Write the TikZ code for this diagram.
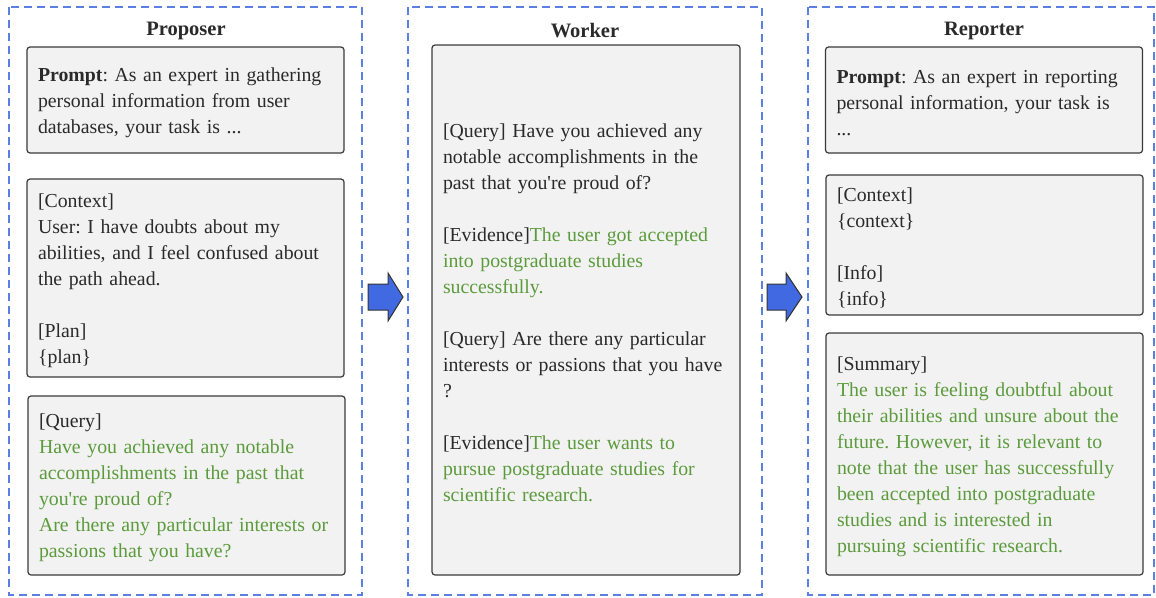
\documentclass[tikz,border=0pt]{standalone}
\usepackage{fontspec}
\setmainfont{Liberation Serif}
\definecolor{dashblue}{HTML}{5B7FE3}
\definecolor{boxfill}{HTML}{F2F2F2}
\definecolor{boxline}{HTML}{3A3A3A}
\definecolor{txtgreen}{HTML}{5B9B3C}
\definecolor{arrowblue}{HTML}{4169E1}
\definecolor{txtdark}{HTML}{2A2A2A}
\tikzset{
  panel/.style={draw=dashblue, line width=1.3pt, dash pattern=on 8pt off 5pt},
  paneltitle/.style={font=\fontsize{20.5}{24}\selectfont\bfseries, text=txtdark, inner sep=0pt},
  textbox/.style={draw=boxline, fill=boxfill, rounded corners=3pt, line width=1.2pt,
    align=left, inner xsep=11pt, inner ysep=0pt, text=txtdark,
    font=\fontsize{19.8}{26}\selectfont\frenchspacing,
    execute at begin node={\rule{0pt}{19pt}}},
  flowarrow/.style={draw=black!80, fill=arrowblue, line width=1pt, line join=miter}
}
\newcommand{\gr}[1]{\textcolor{txtgreen}{#1}}
\newcommand{\ap}{\textquotesingle}
\begin{document}
\begin{tikzpicture}[x=1pt,y=-1pt]
\useasboundingbox (0,0) rectangle (1156,597);
% panels
\draw[panel] (9,7) rectangle (362,595);
\draw[panel] (408,7) rectangle (762,595);
\draw[panel] (808,7) rectangle (1154,595);
\node[paneltitle] (t1) at (186,31) {Proposer};
\node[paneltitle] (t2) at (585,31) {Worker};
\node[paneltitle] (t3) at (984,31) {Reporter};
% Proposer boxes
\node[textbox, text width=295pt, minimum width=317pt, minimum height=106pt] (pprompt) at (185.5,100)
{\textbf{Prompt}: As an expert in gathering\\personal information from user\\databases, your task is ...};
\node[textbox, text width=295pt, minimum width=317pt, minimum height=198pt] (pcontext) at (185.5,278)
{[Context]\\User: I have doubts about my\\abilities, and I feel confused about\\the path ahead.\\[26pt][Plan]\\\{plan\}};
\node[textbox, text width=295pt, minimum width=317pt, minimum height=179pt] (pquery) at (186.5,485.5)
{[Query]\\\gr{Have you achieved any notable}\\\gr{accomplishments in the past that}\\\gr{you\ap re proud of?}\\\gr{Are there any particular interests or}\\\gr{passions that you have?}};
% Worker box
\node[textbox, text width=286pt, minimum width=308pt, minimum height=530pt] (wbox) at (586,310)
{[Query] Have you achieved any\\notable accomplishments in the\\past that you\ap re proud of?\\[26pt][Evidence]\gr{The user got accepted}\\\gr{into postgraduate studies}\\\gr{successfully.}\\[26pt][Query] Are there any particular\\interests or passions that you have\\?\\[26pt][Evidence]\gr{The user wants to}\\\gr{pursue postgraduate studies for}\\\gr{scientific research.}};
% Reporter boxes
\node[textbox, text width=295pt, minimum width=316pt, minimum height=106pt] (rprompt) at (984,100)
{\textbf{Prompt}: As an expert in reporting\\personal information, your task is\\...};
\node[textbox, text width=295pt, minimum width=317pt, minimum height=140pt] (rcontext) at (984.5,245)
{[Context]\\\{context\}\\[26pt][Info]\\\{info\}};
\node[textbox, text width=295pt, minimum width=317pt, minimum height=242pt] (rsummary) at (984.5,454)
{[Summary]\\\gr{The user is feeling doubtful about}\\\gr{their abilities and unsure about the}\\\gr{future. However, it is relevant to}\\\gr{note that the user has successfully}\\\gr{been accepted into postgraduate}\\\gr{studies and is interested in}\\\gr{pursuing scientific research.}};
% arrows
\draw[flowarrow] (368,284) -- (388,284) -- (388,273) -- (403,297) -- (388,321) -- (388,310) -- (368,310) -- cycle;
\draw[flowarrow] (767,284) -- (786,284) -- (786,273) -- (802,297) -- (786,321) -- (786,310) -- (767,310) -- cycle;
\end{tikzpicture}
\end{document}
